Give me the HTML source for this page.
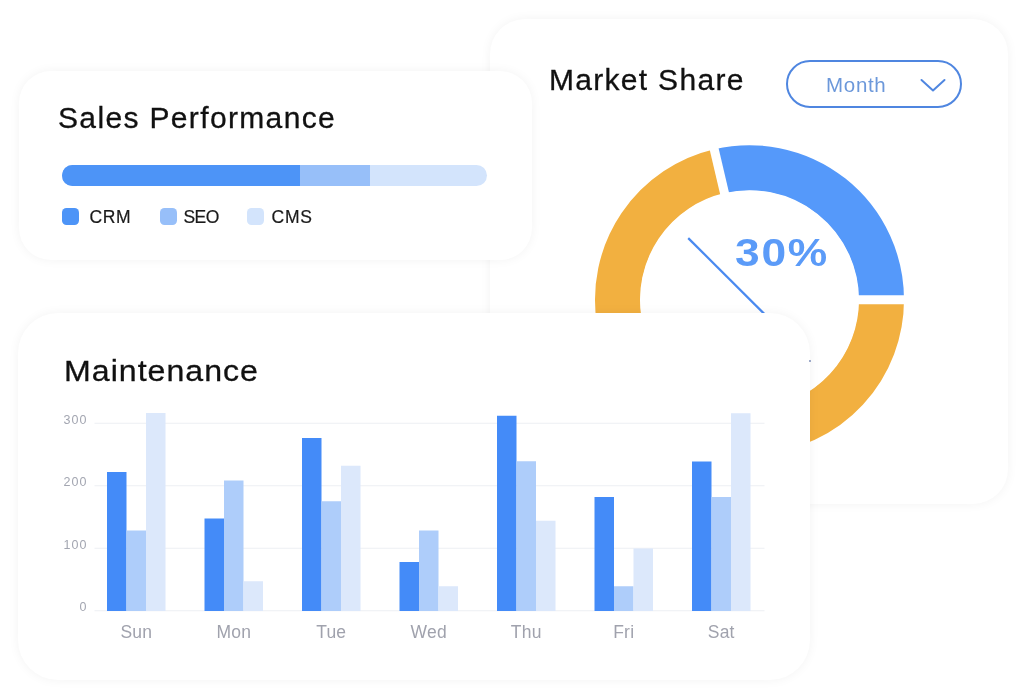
<!DOCTYPE html>
<html lang="en">
<head>
<meta charset="utf-8">
<title>Dashboard</title>
<style>
html,body{margin:0;padding:0;background:#fff;}
body{width:1024px;height:700px;position:relative;overflow:hidden;font-family:"Liberation Sans",sans-serif;color:#111;}
.card{position:absolute;background:#fff;box-shadow:0 0 11px rgba(0,0,0,0.05);}
#ms{left:490px;top:18.5px;width:518px;height:485.5px;border-radius:35px;}
#sp{left:19px;top:70.5px;width:512.5px;height:189.5px;border-radius:32px;}
#mt{left:18px;top:313px;width:792px;height:367px;border-radius:40px;}
.h{position:absolute;font-size:30px;line-height:1;white-space:nowrap;color:#111;-webkit-text-stroke:0.3px #111;}
.abs{position:absolute;}
svg text.day{font-family:"Liberation Sans",sans-serif;font-size:17.5px;fill:#a0a2ad;letter-spacing:0.2px;}
svg text.ax{font-family:"Liberation Sans",sans-serif;font-size:12.5px;fill:#a3a6b1;letter-spacing:1.1px;}
.lg{position:absolute;font-size:17.5px;line-height:1;white-space:nowrap;color:#1a1a1a;-webkit-text-stroke:0.2px #1a1a1a;}
.sq{position:absolute;width:17px;height:17px;border-radius:4.5px;top:208px;}
</style>
</head>
<body>
<div class="card" id="ms"></div>
<svg class="abs" style="left:0;top:0" width="1024" height="700" viewBox="0 0 1024 700">
  <g fill="none" stroke-width="45">
    <path d="M 881.5 299.7 A 132 132 0 1 1 719.35 171.19" stroke="#F2B040"/>
    <path d="M 719.35 171.19 A 132 132 0 0 1 881.5 299.7" stroke="#5599FA"/>
  </g>
  <g stroke="#fff" stroke-width="9">
    <line x1="749.5" y1="299.7" x2="949.5" y2="299.7"/>
    <line x1="749.5" y1="299.7" x2="703.83" y2="104.98"/>
  </g>
  <circle cx="749.5" cy="299.7" r="109" fill="#fff"/>
  <line x1="688.2" y1="238.1" x2="790" y2="339.5" stroke="#4A8AF0" stroke-width="2.2"/>
  <text x="735" y="265.6" font-family="Liberation Sans, sans-serif" font-weight="bold" font-size="38.5" fill="#5B9BF8" letter-spacing="1.5" textLength="94" lengthAdjust="spacingAndGlyphs">30%</text>
</svg>
<div class="h" style="left:549px;top:65px;letter-spacing:1.3px;" id="t_ms">Market Share</div>
<div class="abs" style="left:786px;top:60px;width:172px;height:44px;border:2px solid #4F86E0;border-radius:24px;"></div>
<div class="abs" id="t_month" style="left:826px;top:75px;font-size:20.5px;line-height:1;color:#6C98DA;letter-spacing:0.7px;">Month</div>
<svg class="abs" style="left:915px;top:74px" width="36" height="24" viewBox="915 74 36 24"><path d="M921.5 80 L933 90.5 L944.5 80" fill="none" stroke="#4F86E0" stroke-width="2" stroke-linecap="round" stroke-linejoin="round"/></svg>

<div class="card" id="sp"></div>
<div class="h" style="left:58px;top:103px;letter-spacing:1.35px;" id="t_sp">Sales Performance</div>
<div class="abs" style="left:62px;top:164.7px;width:425px;height:21.3px;border-radius:11px;overflow:hidden;background:#D3E4FC;">
  <div class="abs" style="left:0;top:0;width:308px;height:22px;background:#97BFF9;"></div>
  <div class="abs" style="left:0;top:0;width:238px;height:22px;background:#4D94F7;"></div>
</div>
<div class="sq" style="left:62px;background:#4D94F7;"></div>
<div class="lg" style="left:89.5px;top:208.5px;letter-spacing:0.6px;" id="t_crm">CRM</div>
<div class="sq" style="left:160px;background:#97BFF9;"></div>
<div class="lg" style="left:183.5px;top:208.5px;letter-spacing:-0.6px;" id="t_seo">SEO</div>
<div class="sq" style="left:247px;background:#D3E4FC;"></div>
<div class="lg" style="left:271.5px;top:208.5px;letter-spacing:0.8px;" id="t_cms">CMS</div>

<div class="card" id="mt"></div>
<div class="h" style="left:64px;top:356px;letter-spacing:0.95px;transform:scaleX(1.07);transform-origin:0 0;" id="t_mt">Maintenance</div>
<div class="abs" style="left:809px;top:359.5px;width:2px;height:2px;border-radius:1px;background:#7f8fb8;"></div>
<svg class="abs" style="left:0;top:0" width="1024" height="700" viewBox="0 0 1024 700">
<rect x="94.5" y="422.75" width="670" height="1" fill="#edf0f4"/>
<rect x="94.5" y="485.25" width="670" height="1" fill="#edf0f4"/>
<rect x="94.5" y="547.75" width="670" height="1" fill="#edf0f4"/>
<rect x="94.5" y="610.25" width="670" height="1" fill="#edf0f4"/>
<rect x="107.00" y="472" width="19.5" height="139" fill="#448BF8"/>
<rect x="126.50" y="530.5" width="19.5" height="80.5" fill="#AECDFA"/>
<rect x="146.00" y="413" width="19.5" height="198" fill="#DCE8FB"/>
<rect x="204.50" y="518.5" width="19.5" height="92.5" fill="#448BF8"/>
<rect x="224.00" y="480.5" width="19.5" height="130.5" fill="#AECDFA"/>
<rect x="243.50" y="581.25" width="19.5" height="29.75" fill="#DCE8FB"/>
<rect x="302.00" y="438" width="19.5" height="173" fill="#448BF8"/>
<rect x="321.50" y="501.25" width="19.5" height="109.75" fill="#AECDFA"/>
<rect x="341.00" y="465.75" width="19.5" height="145.25" fill="#DCE8FB"/>
<rect x="399.50" y="562" width="19.5" height="49" fill="#448BF8"/>
<rect x="419.00" y="530.5" width="19.5" height="80.5" fill="#AECDFA"/>
<rect x="438.50" y="586.25" width="19.5" height="24.75" fill="#DCE8FB"/>
<rect x="497.00" y="415.75" width="19.5" height="195.25" fill="#448BF8"/>
<rect x="516.50" y="461.25" width="19.5" height="149.75" fill="#AECDFA"/>
<rect x="536.00" y="520.75" width="19.5" height="90.25" fill="#DCE8FB"/>
<rect x="594.50" y="497" width="19.5" height="114" fill="#448BF8"/>
<rect x="614.00" y="586.25" width="19.5" height="24.75" fill="#AECDFA"/>
<rect x="633.50" y="548.5" width="19.5" height="62.5" fill="#DCE8FB"/>
<rect x="692.00" y="461.5" width="19.5" height="149.5" fill="#448BF8"/>
<rect x="711.50" y="497" width="19.5" height="114" fill="#AECDFA"/>
<rect x="731.00" y="413.25" width="19.5" height="197.75" fill="#DCE8FB"/>
<text x="136.25" y="637.5" text-anchor="middle" class="day">Sun</text>
<text x="233.75" y="637.5" text-anchor="middle" class="day">Mon</text>
<text x="331.25" y="637.5" text-anchor="middle" class="day">Tue</text>
<text x="428.75" y="637.5" text-anchor="middle" class="day">Wed</text>
<text x="526.25" y="637.5" text-anchor="middle" class="day">Thu</text>
<text x="623.75" y="637.5" text-anchor="middle" class="day">Fri</text>
<text x="721.25" y="637.5" text-anchor="middle" class="day">Sat</text>
<text x="87.6" y="423.65" text-anchor="end" class="ax">300</text>
<text x="87.6" y="486.15" text-anchor="end" class="ax">200</text>
<text x="87.6" y="548.65" text-anchor="end" class="ax">100</text>
<text x="87.6" y="611.15" text-anchor="end" class="ax">0</text>
</svg>
</body>
</html>
